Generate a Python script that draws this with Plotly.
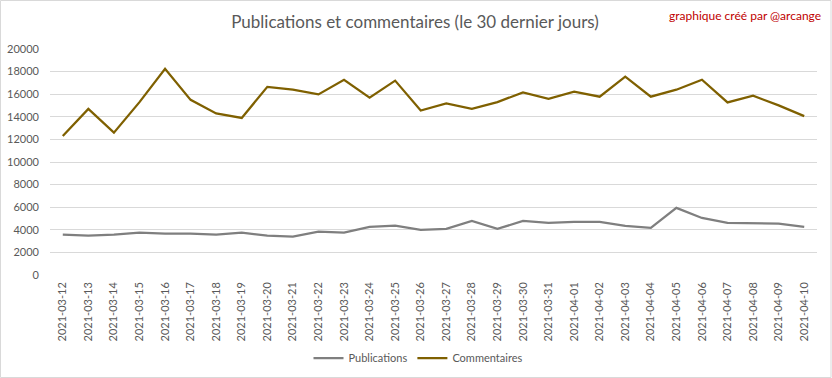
import plotly.graph_objects as go

dates = ["2021-03-12", "2021-03-13", "2021-03-14", "2021-03-15", "2021-03-16", "2021-03-17",
         "2021-03-18", "2021-03-19", "2021-03-20", "2021-03-21", "2021-03-22", "2021-03-23",
         "2021-03-24", "2021-03-25", "2021-03-26", "2021-03-27", "2021-03-28", "2021-03-29",
         "2021-03-30", "2021-03-31", "2021-04-01", "2021-04-02", "2021-04-03", "2021-04-04",
         "2021-04-05", "2021-04-06", "2021-04-07", "2021-04-08", "2021-04-09", "2021-04-10"]

publications = [3570, 3490, 3570, 3750, 3660, 3660, 3570, 3750, 3490, 3400,
                3840, 3750, 4250, 4370, 3990, 4080, 4790, 4080, 4790, 4610,
                4700, 4700, 4340, 4170, 5940, 5050, 4610, 4550, 4550, 4250]

commentaires = [12300, 14700, 12600, 15300, 18250, 15500, 14300, 13900, 16650, 16400,
                15980, 17280, 15700, 17200, 14560, 15180, 14710, 15300, 16160, 15600,
                16220, 15780, 17550, 15780, 16400, 17280, 15270, 15860, 15010, 14060]

y_ticks = [0, 2000, 4000, 6000, 8000, 10000, 12000, 14000, 16000, 18000, 20000]

FONT = "Lato, 'Open Sans', sans-serif"
TXT = "#595959"
W, H = 832, 378

fig = go.Figure()
fig.add_trace(go.Scatter(x=dates, y=publications, mode="lines", name="Publications",
                         line=dict(color="#7f7f7f", width=2.25)))
fig.add_trace(go.Scatter(x=dates, y=commentaires, mode="lines", name="Commentaires",
                         line=dict(color="#7f6000", width=2.25)))

fig.update_layout(
    width=W, height=H,
    margin=dict(l=50, r=15, t=49, b=103, autoexpand=False),
    paper_bgcolor="white", plot_bgcolor="white",
    font=dict(family=FONT, color=TXT, size=11),
    title=dict(text="Publications et commentaires (le 30 dernier jours)",
               x=415 / W, xref="container", xanchor="center",
               y=1 - 22 / H, yref="container", yanchor="middle",
               font=dict(family=FONT, size=17, color=TXT)),
    showlegend=True,
    legend=dict(orientation="h", x=418 / W, xanchor="center", xref="container",
                y=1 - 358 / H, yref="container", yanchor="middle",
                font=dict(family=FONT, size=11, color=TXT),
                bgcolor="rgba(0,0,0,0)"),
    xaxis=dict(type="category", range=[-0.5, len(dates) - 0.5], tickangle=-90,
               showgrid=False, showline=False, zeroline=False, automargin=False,
               tickfont=dict(family=FONT, size=11, color=TXT),
               ticks="", ticklabelstandoff=4, fixedrange=True),
    yaxis=dict(range=[0, 20000], tickvals=y_ticks, ticktext=[str(v) for v in y_ticks],
               showgrid=True, gridcolor="#d9d9d9", gridwidth=1, zeroline=False,
               showline=False, automargin=False, tickfont=dict(family=FONT, size=11, color=TXT),
               ticklabelstandoff=10, fixedrange=True),
    shapes=[dict(type="rect", xref="paper", yref="paper",
                 x0=-49.5 / 767, x1=1 + 14 / 767, y0=-102.5 / 226, y1=1 + 48.5 / 226,
                 line=dict(color="#d9d9d9", width=1), fillcolor="rgba(0,0,0,0)", layer="below")],
    annotations=[dict(text="graphique créé par @arcange", xref="paper", yref="paper",
                      x=(823 - 50) / 767, xanchor="right", y=1 + (49 - 15) / 226, yanchor="middle",
                      showarrow=False, font=dict(family=FONT, size=12, color="#c00000"))],
)

fig.write_html("out.html", config={"displayModeBar": False},
               post_script="document.body.style.margin='0px';")
